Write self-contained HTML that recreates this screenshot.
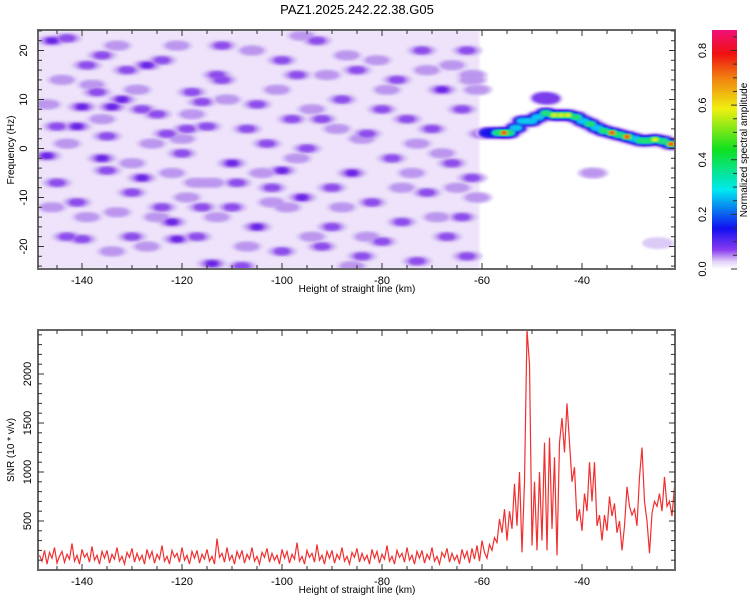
<!DOCTYPE html>
<html><head><meta charset="utf-8"><style>
html,body{margin:0;padding:0;background:#fff;}
svg{display:block;font-family:"Liberation Sans",sans-serif;}
</style></head><body>
<svg id="chart" width="750" height="600" viewBox="0 0 750 600">
<defs>
<linearGradient id="cbar" x1="0" y1="1" x2="0" y2="0">
<stop offset="0" stop-color="#ffffff"/><stop offset="0.03" stop-color="#e4d4f8"/>
<stop offset="0.08" stop-color="#8a3cf0"/><stop offset="0.17" stop-color="#1010f0"/>
<stop offset="0.33" stop-color="#00e8f0"/><stop offset="0.5" stop-color="#10e020"/>
<stop offset="0.67" stop-color="#f0f010"/><stop offset="0.8" stop-color="#f08010"/>
<stop offset="0.9" stop-color="#f01010"/><stop offset="1" stop-color="#f0107a"/>
</linearGradient>
<clipPath id="clipTop"><rect x="38" y="30" width="637" height="239"/></clipPath>
<clipPath id="clipBot"><rect x="38" y="330" width="637" height="240"/></clipPath>
<filter id="soft"><feGaussianBlur stdDeviation="1.2"/></filter>
</defs>
<text x="357" y="14" font-size="13" text-anchor="middle">PAZ1.2025.242.22.38.G05</text>
<g id="topPanel"></g>
<g id="botPanel"></g>
<g id="cbPanel"></g>
</svg>
<script>
// ---- data ----
const xTickLabels = [-140, -120, -100, -80, -60, -40];
const freqTickLabels = [-20, -10, 0, 10, 20];
const snrTickLabels = [500, 1000, 1500, 2000];
const cbarTickLabels = [0.0, 0.2, 0.4, 0.6, 0.8];
// noise blobs: [km, Hz, amplitude]
const noiseKm = [-146,-143,-139,-136,-131,-127,-124,-140,-134,-132,-128,-141,-145,-137,-135,-125,-123,-119,-115,-118,-116,-113,-112,-120,-147,-136,-135,-128,-120,-110,-109,-124,-122,-121,-117,-141,-143,-140,-130,-114,-108,-110,-105,-102,-100,-96,-92,-100,-97,-93,-105,-98,-95,-103,-88,-85,-80,-83,-77,-78,-86,-82,-76,-84,-90,-72,-68,-70,-66,-71,-67,-73,-63,-64,-62,-64,-63,-92,-112,-107,-90,-75,-80,-130,-145,-116,-100,-60,-61,-61,-37.8,-24.8,
 -144,-138,-133,-129,-126,-121,-117,-111,-106,-101,-96,-91,-87,-81,-76,-71,-66,-62,-146,-139,-133,-127,-122,-113,-107,-99,-94,-88,-83,-74,-69,-65,-143,-136,-130,-125,-119,-114,-104,-97,-89,-84,-79,-73,-68,-62,-147,-134,-118,-102,-94,-86];
const noiseHz = [22,22.5,17,19,16,17,18,8.5,8.5,10,8,4.5,4.5,11.5,2.5,7,3,4,4.5,11.5,9.5,15,14,2,-1.5,-2,-4.5,-6,-1,-3,-7,-12,-15,-18.5,-18,-11,-18,-18.5,-18,-23.5,-24,-12,-16,-8,-4.5,-10,-20,18,15,22,9,6,0,1,10,16,8,3,14,-2,-5,-11,-15,-22,-16,20,12,4,-3,-9,-18,-23,20,8,-6,-14,-22,6,21,4,-8,6,-19,-9,-7,-12,-21,3,12,-10,-5,-19.3,
 14,13,21,12,1,21,-7,10,20,12,23,15,19,18,-8,16,17,14,-12,-14,-13,-20,-5,-14,-20,-12,-18,-12,-18,-5,-14,-8,1,6,-3,-14,-10,-7,-5,-2,4,2,12,1,-1,15,9,-21,7,-11,8,-24];
const noiseAmp = [0.14,0.12,0.1,0.1,0.12,0.14,0.1,0.14,0.15,0.14,0.12,0.16,0.1,0.1,0.1,0.1,0.12,0.12,0.1,0.13,0.12,0.12,0.12,0.08,0.16,0.14,0.12,0.14,0.12,0.14,0.12,0.13,0.14,0.15,0.12,0.1,0.1,0.12,0.1,0.14,0.12,0.12,0.14,0.13,0.14,0.14,0.12,0.12,0.13,0.12,0.12,0.13,0.13,0.12,0.13,0.12,0.12,0.13,0.13,0.12,0.14,0.12,0.13,0.12,0.12,0.13,0.14,0.13,0.12,0.13,0.13,0.12,0.12,0.13,0.12,0.13,0.12,0.1,0.11,0.1,0.1,0.1,0.11,0.1,0.1,0.1,0.1,0.16,0.08,0.08,0.07,0.05,
 0.08,0.07,0.09,0.07,0.08,0.07,0.09,0.08,0.07,0.08,0.07,0.09,0.08,0.07,0.08,0.07,0.08,0.09,0.07,0.08,0.07,0.09,0.08,0.07,0.08,0.09,0.07,0.08,0.07,0.08,0.09,0.07,0.08,0.07,0.08,0.09,0.07,0.08,0.07,0.09,0.08,0.07,0.08,0.07,0.09,0.08,0.07,0.08,0.07,0.09,0.08,0.07];
// ridge: [km, Hz, amplitude]
const ridgeKm = [-58.6,-56.8,-55.6,-54.6,-53.2,-51.8,-50.2,-48.8,-47.2,-45.6,-44.2,-42.8,-41.2,-39.8,-38.4,-37,-35.6,-34,-32.6,-31,-29.6,-28.2,-26.8,-25.4,-23.8,-22.2,-47.8,-46.6];
const ridgeHz = [3.2,3.2,3.2,3.2,4.2,5.6,5.6,6.4,7.2,6.8,6.8,6.8,6.4,5.6,5,4.2,3.6,3.2,2.8,2.4,2,1.6,1.6,1.8,1.5,0.9,10.3,10.2];
const ridgeAmp = [0.2,0.5,0.8,0.5,0.3,0.35,0.3,0.4,0.45,0.55,0.65,0.6,0.45,0.4,0.45,0.4,0.5,0.85,0.5,0.7,0.4,0.45,0.5,0.65,0.45,0.75,0.15,0.12];
// SNR series sampled every 0.5 km from -148.5
const snrStart = -148.5, snrStep = 0.5;
const snrValues = [
150,90,200,60,180,120,230,70,140,190,80,160,110,270,90,150,60,210,130,170,
80,240,100,150,60,190,120,200,70,160,110,230,90,140,60,180,130,220,80,170,
100,150,60,210,120,190,70,160,110,250,90,140,60,200,130,170,80,230,100,150,
60,190,120,200,70,160,110,210,90,140,60,320,130,170,80,230,100,150,60,190,
120,200,70,160,110,230,90,140,60,180,130,220,80,170,100,150,60,210,120,190,
70,160,110,280,90,140,60,200,130,170,80,260,100,150,60,190,120,200,70,160,
110,230,90,140,60,180,130,220,80,170,100,150,60,210,120,190,70,160,110,250,
90,140,60,200,130,170,80,230,100,150,60,190,120,200,70,160,110,230,90,140,
60,180,130,220,80,170,100,150,60,210,120,190,70,220,110,250,90,300,
180,120,260,200,330,280,520,380,620,300,600,420,880,450,1000,180,900,2450,2100,250,
900,200,1000,300,1300,200,1350,420,1150,150,1300,1550,1200,1700,1300,900,1050,500,620,400,
780,600,1100,700,1100,450,560,300,560,400,750,550,680,380,500,200,450,850,650,560,
620,450,950,1250,700,500,170,580,700,650,780,600,950,650,700,550,850,700];

// ---- axes ----
const X0=38,X1=675;
const xS = km => 82 + (km+140)*5;
const yT = hz => 148.5 - hz*4.9;
const yB = v => 570 - v*0.098;
const yC = a => 269 - a*(239/0.875);
const NS="http://www.w3.org/2000/svg";
function mk(tag, parent, attrs){const e=document.createElementNS(NS,tag);for(const k in attrs)e.setAttribute(k,attrs[k]);parent.appendChild(e);return e;}

const topG=document.getElementById('topPanel'), botG=document.getElementById('botPanel'), cbG=document.getElementById('cbPanel');

// spectrogram
const hm = mk('g', topG, {'clip-path':'url(#clipTop)'});
const base = mk('rect', hm, {x:X0,y:30,width:xS(-60.5)-X0,height:239,fill:'#eee3fa',filter:'url(#soft)'});


const noiseLayers=[[0.02,'#dccaf6',16,6],[0.06,'#bc96ee',12,4.6],[0.1,'#8c4cec',8,3.6],[0.14,'#6420e4',5,2.6]];
const ridgeLayers=[[0.02,'#d8c4f6',14,7],[0.1,'#7a3cec',11,5.5],[0.2,'#1818e8',9,4.5],[0.3,'#10c8f0',7,3.4],[0.42,'#20e070',5.2,2.8],[0.55,'#e8f020',4,2.3],[0.7,'#f04010',3,1.9]];
function drawBlobs(kms,hzs,amps,layers,name){
  for(const L of layers){
    for(let i=0;i<kms.length;i++){
      if(amps[i]>=L[0]){
        const e=mk('ellipse',hm,{cx:xS(kms[i]),cy:yT(hzs[i]),rx:L[2],ry:L[3],fill:L[1],filter:'url(#soft)'});
        
        
      }
    }
  }
}
drawBlobs(noiseKm,noiseHz,noiseAmp,noiseLayers,'noise-blob');
drawBlobs(ridgeKm,ridgeHz,ridgeAmp,ridgeLayers,'signal-ridge-blob');

function frame(parent,y0,y1,name){
  const r=mk('rect',parent,{x:X0,y:y0,width:X1-X0,height:y1-y0,fill:'none',stroke:'#666','stroke-width':2});
  
  
  for(let km=-145;km<=-25;km+=5){
    const x=xS(km), L=(km%20===0)?6:4;
    mk('line',parent,{x1:x,x2:x,y1:y0,y2:y0+L,stroke:'#333'});
    mk('line',parent,{x1:x,x2:x,y1:y1,y2:y1-L,stroke:'#333'});
  }
  for(const km of xTickLabels){
    const t=mk('text',parent,{x:xS(km),y:y1+15,'font-size':11,'text-anchor':'middle'});
    t.textContent=km;
    
    
  }
  const xt=mk('text',parent,{x:357,y:y1+23,'font-size':10,'text-anchor':'middle'});
  xt.textContent='Height of straight line (km)';
  
  
}
frame(topG,30,269,'spectrogram-frame');
for(let hz=-24;hz<=24;hz+=2){
  const y=yT(hz),L=(hz%10===0)?6:4;
  mk('line',topG,{x1:X0,x2:X0+L,y1:y,y2:y,stroke:'#333'});
  mk('line',topG,{x1:X1,x2:X1-L,y1:y,y2:y,stroke:'#333'});
}
for(const hz of freqTickLabels){
  const t=mk('text',topG,{x:0,y:0,'font-size':11,'text-anchor':'middle',transform:`translate(27,${yT(hz)}) rotate(-90)`});
  t.textContent=hz;
  
  
}
const yt1=mk('text',topG,{x:0,y:0,'font-size':10,'text-anchor':'middle',transform:'translate(14,150) rotate(-90)'});
yt1.textContent='Frequency (Hz)';



// SNR
const gl=mk('g',botG,{'clip-path':'url(#clipBot)'});
let d='';
for(let i=0;i<snrValues.length;i++){const km=snrStart+i*snrStep;d+=(i?'L':'M')+xS(km).toFixed(1)+','+yB(snrValues[i]).toFixed(1);}
const line=mk('path',gl,{d:d,fill:'none',stroke:'#f03030','stroke-width':1.2});


frame(botG,330,570,'snr-frame');
for(let v=100;v<=2400;v+=100){
  const y=yB(v),L=(v%500===0)?6:4;
  mk('line',botG,{x1:X0,x2:X0+L,y1:y,y2:y,stroke:'#333'});
  mk('line',botG,{x1:X1,x2:X1-L,y1:y,y2:y,stroke:'#333'});
}
for(const v of snrTickLabels){
  const t=mk('text',botG,{x:0,y:0,'font-size':11,'text-anchor':'middle',transform:`translate(31,${yB(v)}) rotate(-90)`});
  t.textContent=v;
  
  
}
const yt2=mk('text',botG,{x:0,y:0,'font-size':10,'text-anchor':'middle',transform:'translate(14,450) rotate(-90)'});
yt2.textContent='SNR (10 * v/v)';



// colorbar
const bar=mk('rect',cbG,{x:712,y:30,width:25,height:239,fill:'url(#cbar)'});


for(let a=0;a<=0.86;a+=0.05){
  const y=yC(a),L=(Math.round(a*100)%20===0)?6:4;
  mk('line',cbG,{x1:737,x2:737-L,y1:y,y2:y,stroke:'#333'});
}
for(const a of cbarTickLabels){
  const t=mk('text',cbG,{x:0,y:0,'font-size':11,'text-anchor':'middle',transform:`translate(706,${yC(a)}) rotate(-90)`});
  t.textContent=a.toFixed(1);
  
  
}
const ct=mk('text',cbG,{x:0,y:0,'font-size':10,'text-anchor':'middle',transform:'translate(747,150) rotate(-90)'});
ct.textContent='Normalized spectral amplitude';


</script>
</body></html>
